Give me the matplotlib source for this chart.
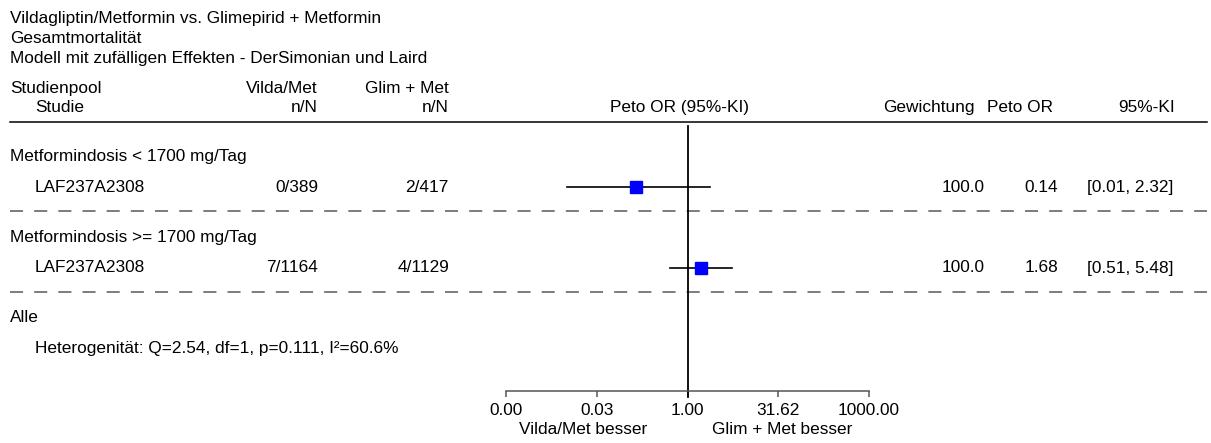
import numpy as np
import matplotlib
matplotlib.use("Agg")
import matplotlib.pyplot as plt

plt.rcParams["font.family"] = ["Liberation Sans", "DejaVu Sans"]
plt.rcParams["lines.scale_dashes"] = False

title_lines = ["Vildagliptin/Metformin vs. Glimepirid + Metformin",
               "Gesamtmortalität",
               "Modell mit zufälligen Effekten - DerSimonian und Laird"]
groups = ["Metformindosis < 1700 mg/Tag", "Metformindosis >= 1700 mg/Tag"]
studies = ["LAF237A2308", "LAF237A2308"]
vilda_n = ["0/389", "7/1164"]
glim_n = ["2/417", "4/1129"]
weights = [100.0, 100.0]
or_vals = [0.14, 1.68]
ci_lo = [0.01, 0.51]
ci_hi = [2.32, 5.48]
overall_label = "Alle"
het_text = "Heterogenität: Q=2.54, df=1, p=0.111, I²=60.6%"
tick_vals = [0.001, 10 ** -1.5, 1.0, 10 ** 1.5, 1000.0]

W, H = 1211, 443
FS = 12.4
fig = plt.figure(figsize=(W / 100, H / 100), dpi=100)

# background axes in pixel units for the table text
bg = fig.add_axes([0, 0, 1, 1])
bg.set_xlim(0, W); bg.set_ylim(H, 0); bg.axis("off")

for i, t in enumerate(title_lines):
    bg.text(10, 18 + 20 * i, t, fontsize=FS, va="center", ha="left")

# column headers
hy1, hy2 = 88, 107
bg.text(10, hy1, "Studienpool", fontsize=FS, va="center")
bg.text(35, hy2, "Studie", fontsize=FS, va="center")
bg.text(318, hy1, "Vilda/Met", fontsize=FS, va="center", ha="right")
bg.text(318, hy2, "n/N", fontsize=FS, va="center", ha="right")
bg.text(449, hy1, "Glim + Met", fontsize=FS, va="center", ha="right")
bg.text(449, hy2, "n/N", fontsize=FS, va="center", ha="right")
bg.text(679, hy2, "Peto OR (95%-KI)", fontsize=FS, va="center", ha="center")
bg.text(975, hy2, "Gewichtung", fontsize=FS, va="center", ha="right")
bg.text(1053, hy2, "Peto OR", fontsize=FS, va="center", ha="right")
bg.text(1175, hy2, "95%-KI", fontsize=FS, va="center", ha="right")
bg.plot([10, 1207], [122, 122], color="black", lw=1.1)

pitch = 81
for i in range(len(groups)):
    gy, sy, dy = 156 + pitch * i, 187 + pitch * i, 211 + pitch * i
    bg.text(10, gy, groups[i], fontsize=FS, va="center")
    bg.text(35, sy, studies[i], fontsize=FS, va="center")
    bg.text(318, sy, vilda_n[i], fontsize=FS, va="center", ha="right")
    bg.text(449, sy, glim_n[i], fontsize=FS, va="center", ha="right")
    bg.text(985, sy, f"{weights[i]:.1f}", fontsize=FS, va="center", ha="right")
    bg.text(1058, sy, f"{or_vals[i]:.2f}", fontsize=FS, va="center", ha="right")
    bg.text(1087, sy, f"[{ci_lo[i]:.2f}, {ci_hi[i]:.2f}]", fontsize=FS, va="center", ha="left")
    bg.plot([10, 1207], [dy, dy], color="#666666", lw=1.2, ls=(0, (9.4, 8.0)))

oy = 156 + pitch * len(groups)
bg.text(10, oy, overall_label, fontsize=FS, va="center")
bg.text(35, oy + 31, het_text, fontsize=FS, va="center")

bg.text(647, 430, "Vilda/Met besser", fontsize=FS, va="center", ha="right")
bg.text(712, 430, "Glim + Met besser", fontsize=FS, va="center", ha="left")

# forest axes: log x, y in the same pixel units as the table
x0, x1, ytop, ybot = 506, 869, 126, 391
ax = fig.add_axes([x0 / W, (H - ybot) / H, (x1 - x0) / W, (ybot - ytop) / H])
ax.set_facecolor("none")
ax.set_xscale("log")
ax.set_xlim(1e-3, 1e3)
ax.set_ylim(ybot, ytop)
for s in ("top", "right", "left"):
    ax.spines[s].set_visible(False)
ax.spines["bottom"].set_color("#555555")
ax.spines["bottom"].set_linewidth(1.1)
ax.set_yticks([])
ax.set_xticks(tick_vals)
ax.set_xticklabels([f"{v:.2f}" for v in tick_vals], fontsize=FS)
ax.xaxis.set_minor_locator(matplotlib.ticker.NullLocator())
ax.tick_params(axis="x", direction="out", length=4.5, width=1.1, color="#555555", pad=4)

ax.plot([1, 1], [ytop, ybot + 6], color="black", lw=1.3, clip_on=False)
for i in range(len(groups)):
    sy = 187 + pitch * i
    ax.plot([ci_lo[i], ci_hi[i]], [sy, sy], color="black", lw=1.2)
    ax.plot(or_vals[i], sy, marker="s", ms=8, color="#0000ff", mec="#0000ff", ls="none")

fig.savefig("out.png", dpi=100)
